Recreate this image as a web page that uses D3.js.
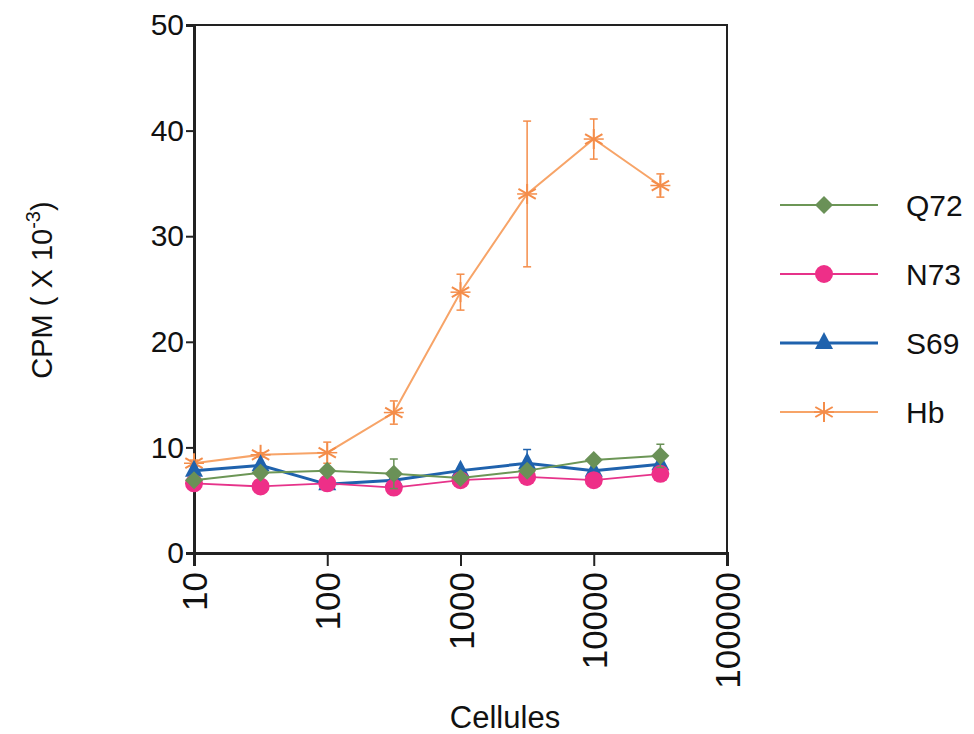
<!DOCTYPE html>
<html>
<head>
<meta charset="utf-8">
<script src="https://cdn.jsdelivr.net/npm/d3@7"></script>
<style>
  body { margin: 0; background: #fff; }
  text { font-family: "Liberation Sans", Arial, sans-serif; fill: #111; }
</style>
</head>
<body>
<svg id="chart" width="974" height="734"></svg>
<script>
// cells per well (half-decade steps)
const cells = [10, 31.6, 100, 316, 1000, 3162, 10000, 31623];

const q72 = [6.9, 7.6, 7.8, 7.5, 7.1, 7.8, 8.8, 9.2];
const q72Err = [0, 0, 0, 1.4, 0, 0, 0, 1.1];
const n73 = [6.6, 6.3, 6.6, 6.2, 6.9, 7.2, 6.9, 7.5];
const n73Err = [0, 0, 0, 0, 0, 0, 0, 0];
const s69 = [7.8, 8.3, 6.5, 6.9, 7.8, 8.5, 7.8, 8.4];
const s69Err = [0, 0, 0, 0, 0, 1.3, 0, 0];
const hb = [8.5, 9.3, 9.5, 13.3, 24.7, 34.0, 39.2, 34.8];
const hbErr = [0.3, 0.2, 1.0, 1.1, 1.7, 6.9, 1.9, 1.1];

const xTicks = [10, 100, 1000, 10000, 100000];
const yTicks = [0, 10, 20, 30, 40, 50];

const series = [
  { name: "Hb", values: hb, err: hbErr, color: "#f7a468", mark: "#f48d4a", shape: "star", width: 2 },
  { name: "S69", values: s69, err: s69Err, color: "#1f62ad", mark: "#1f62ad", shape: "tri", width: 3 },
  { name: "N73", values: n73, err: n73Err, color: "#e6338a", mark: "#ee2f88", shape: "circle", width: 1.8 },
  { name: "Q72", values: q72, err: q72Err, color: "#6c9656", mark: "#6a9157", shape: "diamond", width: 2 }
];
const legendOrder = ["Q72", "N73", "S69", "Hb"];

const svg = d3.select("#chart");
const plotL = 194, plotR = 727, plotT = 25, plotB = 553;
const font = "Liberation Sans, Arial, sans-serif";

const x = d3.scaleLog().domain([10, 100000]).range([plotL, plotR]);
const y = d3.scaleLinear().domain([0, 50]).range([plotB, plotT]);

// frame
svg.append("rect")
  .attr("x", plotL).attr("y", plotT)
  .attr("width", plotR - plotL).attr("height", plotB - plotT)
  .attr("fill", "none").attr("stroke", "#222").attr("stroke-width", 2);

const yAxis = svg.append("g")
  .attr("transform", `translate(${plotL},0)`)
  .call(d3.axisLeft(y).tickValues(yTicks).tickSize(8).tickPadding(2));
yAxis.select(".domain").attr("stroke", "#222").attr("stroke-width", 3);
yAxis.selectAll(".tick line").attr("stroke", "#222").attr("stroke-width", 2);
yAxis.selectAll(".tick text")
  .style("font-family", font)
  .style("font-size", "30px").attr("fill", "#111");

const xAxis = svg.append("g")
  .attr("transform", `translate(0,${plotB})`)
  .call(d3.axisBottom(x).tickValues(xTicks).tickFormat(d3.format("d")).tickSize(13));
xAxis.select(".domain").attr("stroke", "#222").attr("stroke-width", 3);
xAxis.selectAll(".tick line").attr("stroke", "#222").attr("stroke-width", 2);
xAxis.selectAll(".tick text")
  .style("font-family", font)
  .style("font-size", "35px").attr("fill", "#111")
  .attr("transform", "rotate(-90)")
  .attr("text-anchor", "end")
  .attr("x", -19).attr("y", 0).attr("dy", "0.36em");

// axis titles
svg.append("text")
  .attr("x", 505).attr("y", 728)
  .attr("text-anchor", "middle")
  .style("font-size", "31px")
  .text("Cellules");

const yl = svg.append("text")
  .attr("transform", "translate(52,290) rotate(-90)")
  .attr("text-anchor", "middle")
  .style("font-size", "29px");
yl.append("tspan").text("CPM ( X 10");
yl.append("tspan").attr("dy", -12).style("font-size", "20px").text("-3");
yl.append("tspan").attr("dy", 12).text(")");

function drawMarker(g, shape, color, cx, cy) {
  if (shape === "circle") {
    g.append("circle").attr("cx", cx).attr("cy", cy).attr("r", 9).attr("fill", color);
  } else if (shape === "diamond") {
    g.append("path")
      .attr("d", `M${cx},${cy - 9}L${cx + 9},${cy}L${cx},${cy + 9}L${cx - 9},${cy}Z`)
      .attr("fill", color);
  } else if (shape === "tri") {
    g.append("path")
      .attr("d", `M${cx},${cy - 11}L${cx + 9},${cy + 6}L${cx - 9},${cy + 6}Z`)
      .attr("fill", color);
  } else {
    const r = 10;
    [90, 30, -30, 0].forEach(a => {
      const rad = a * Math.PI / 180;
      const dx = Math.cos(rad) * r, dy = Math.sin(rad) * r;
      g.append("line")
        .attr("x1", cx - dx).attr("y1", cy - dy)
        .attr("x2", cx + dx).attr("y2", cy + dy)
        .attr("stroke", color).attr("stroke-width", a === 0 ? 1.5 : 2);
    });
  }
}

const line = d3.line().x(d => x(d[0])).y(d => y(d[1]));

series.forEach(s => {
  const g = svg.append("g");
  // error bars
  s.values.forEach((v, i) => {
    if (!s.err[i]) return;
    const cx = x(cells[i]);
    const y1 = y(v + s.err[i]), y0 = y(v - s.err[i]);
    g.append("line").attr("x1", cx).attr("x2", cx).attr("y1", y1).attr("y2", y0)
      .attr("stroke", s.mark).attr("stroke-width", 1.5);
    [y1, y0].forEach(yy => g.append("line")
      .attr("x1", cx - 4).attr("x2", cx + 4).attr("y1", yy).attr("y2", yy)
      .attr("stroke", s.mark).attr("stroke-width", 1.5));
  });
  g.append("path")
    .datum(cells.map((c, i) => [c, s.values[i]]))
    .attr("d", line)
    .attr("fill", "none")
    .attr("stroke", s.color)
    .attr("stroke-width", s.width);
  s.values.forEach((v, i) => drawMarker(g, s.shape, s.mark, x(cells[i]), y(v)));
});

// legend
const legY = d3.scalePoint().domain(legendOrder).range([205, 412]);
legendOrder.forEach(name => {
  const s = series.find(d => d.name === name);
  const ly = legY(name);
  const g = svg.append("g");
  g.append("line").attr("x1", 780).attr("x2", 878).attr("y1", ly).attr("y2", ly)
    .attr("stroke", s.color).attr("stroke-width", s.width);
  drawMarker(g, s.shape, s.mark, 824, ly);
  g.append("text").attr("x", 906).attr("y", ly).attr("dy", "0.36em")
    .style("font-size", "30px").text(name);
});
</script>
</body>
</html>
